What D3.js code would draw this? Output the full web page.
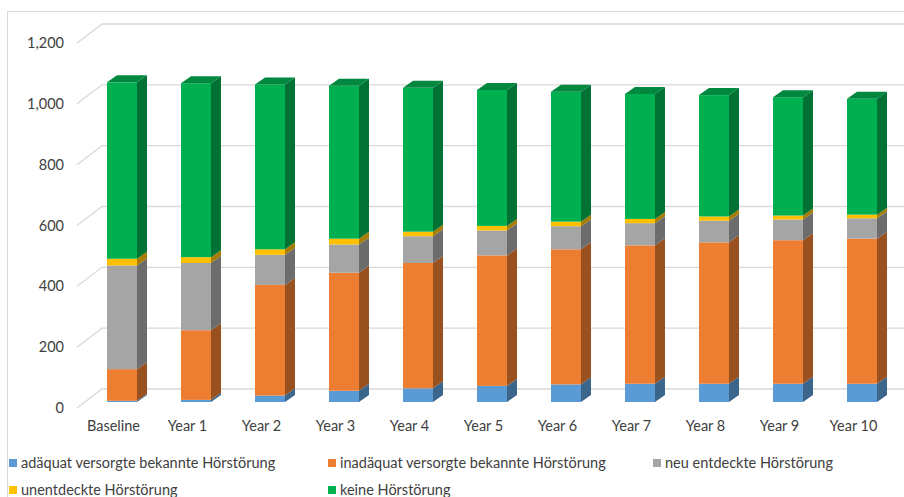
<!DOCTYPE html>
<html>
<head>
<meta charset="utf-8">
<script src="https://cdn.jsdelivr.net/npm/d3@7"></script>
<style>
  html, body { margin: 0; padding: 0; background: #ffffff; }
  svg { display: block; }
  text { font-family: Lato, "Open Sans", sans-serif; fill: #404040; }
</style>
</head>
<body>
<svg id="chart" width="904" height="497"></svg>
<script>
// Categories along the x axis
const categories = ["Baseline", "Year 1", "Year 2", "Year 3", "Year 4", "Year 5",
                    "Year 6", "Year 7", "Year 8", "Year 9", "Year 10"];

// Series (stacked bottom to top)
const seriesNames = [
  "adäquat versorgte bekannte Hörstörung",
  "inadäquat versorgte bekannte Hörstörung",
  "neu entdeckte Hörstörung",
  "unentdeckte Hörstörung",
  "keine Hörstörung"
];
const adaequat   = [4, 7, 21, 37, 45, 53, 58, 60, 60, 60, 60];
const inadaequat = [104, 229, 364, 388, 412, 429, 444, 455, 465, 472, 477];
const neu        = [341, 221, 99, 93, 88, 82, 76, 73, 71, 68, 67];
const unentdeckt = [22, 19, 18, 19, 15, 15, 15, 14, 14, 13, 12];
const keine      = [580, 572, 542, 503, 473, 447, 427, 411, 399, 389, 381];

const seriesColors = ["#5B9BD5", "#ED7D31", "#A5A5A5", "#FFC000", "#00B050"];

// Y axis tick labels
const yTicks = [0, 200, 400, 600, 800, 1000, 1200];

const svg = d3.select("#chart");

// Outer chart frame
svg.append("rect")
  .attr("x", 7.5).attr("y", 11.5)
  .attr("width", 920).attr("height", 520)
  .attr("fill", "none").attr("stroke", "#d9d9d9");

// Value scale for the bars' front faces
const y = d3.scaleLinear().domain([0, 1200]).range([402, 37]);
// Oblique 3D offsets
const wallDx = 25, wallDy = -19;     // floor front edge -> back wall
const floorOffset = 6;               // front floor edge relative to bar front
const depthDx = 10, depthDy = -7;    // bar depth

const x = d3.scaleBand()
  .domain(categories)
  .range([85, 899])
  .paddingInner(44 / 74)
  .paddingOuter(22 / 74);

// Gridlines: diagonal on the left side wall, then horizontal on the back wall
const floorLeft = 77;
const grid = svg.append("g").attr("class", "grid");
yTicks.forEach(v => {
  const yf = y(v) + floorOffset;
  const yb = yf + wallDy;
  grid.append("path")
    .attr("d", `M${floorLeft},${yf}L${floorLeft + wallDx},${yb}L904,${yb}`)
    .attr("fill", "none")
    .attr("stroke", "#d9d9d9")
    .attr("stroke-width", 1.3);
});

// Y axis labels
const yLabel = d3.scaleLinear().domain(y.domain()).range(y.range().map(r => r + floorOffset));
const yAxis = d3.axisLeft(yLabel)
  .tickValues(yTicks)
  .tickFormat(d3.format(","))
  .tickSize(0)
  .tickPadding(0);
const yAxisG = svg.append("g")
  .attr("transform", "translate(64,0)")
  .call(yAxis);
yAxisG.select(".domain").remove();
yAxisG.selectAll("text")
  .style("font-family", "Lato, 'Open Sans', sans-serif")
  .style("font-size", "14.5px")
  .attr("fill", "#404040");

// X axis labels along the front floor edge
const xLabel = d3.scaleBand().domain(categories)
  .range(x.range().map(r => r - 8.5))
  .paddingInner(x.paddingInner()).paddingOuter(x.paddingOuter());
const xAxis = d3.axisBottom(xLabel).tickSize(0).tickPadding(0);
const xAxisG = svg.append("g")
  .attr("transform", "translate(0,421)")
  .call(xAxis);
xAxisG.select(".domain").remove();
xAxisG.selectAll("text")
  .style("font-family", "Lato, 'Open Sans', sans-serif")
  .style("font-size", "14.5px")
  .attr("fill", "#404040");

// Stacked data
const rows = categories.map((c, i) => ({
  category: c,
  s0: adaequat[i], s1: inadaequat[i], s2: neu[i], s3: unentdeckt[i], s4: keine[i]
}));
const keys = ["s0", "s1", "s2", "s3", "s4"];
const stacked = d3.stack().keys(keys)(rows);

const bars = svg.append("g").attr("class", "bars");
const bw = x.bandwidth();

categories.forEach((c, i) => {
  const g = bars.append("g");
  const x0 = x(c), x1 = x0 + bw;
  stacked.forEach((layer, k) => {
    const [v0, v1] = layer[i];
    const col = d3.color(seriesColors[k]);
    const yTop = y(v1), yBot = y(v0);
    // right side face
    g.append("path")
      .attr("d", `M${x1},${yBot}L${x1 + depthDx},${yBot + depthDy}L${x1 + depthDx},${yTop + depthDy}L${x1},${yTop}Z`)
      .attr("fill", col.darker(1.2).formatHex());
    // front face
    g.append("rect")
      .attr("x", x0).attr("y", yTop)
      .attr("width", bw).attr("height", Math.max(0, yBot - yTop))
      .attr("fill", col.formatHex());
    // top face on the highest segment
    if (k === stacked.length - 1) {
      g.append("path")
        .attr("d", `M${x0},${yTop}L${x0 + depthDx},${yTop + depthDy}L${x1 + depthDx},${yTop + depthDy}L${x1},${yTop}Z`)
        .attr("fill", col.darker(0.7).formatHex());
    }
  });
});

// Legend
const legendItems = [
  { name: seriesNames[0], color: seriesColors[0], x: 9,   y: 459 },
  { name: seriesNames[1], color: seriesColors[1], x: 328, y: 459 },
  { name: seriesNames[2], color: seriesColors[2], x: 653, y: 459 },
  { name: seriesNames[3], color: seriesColors[3], x: 9,   y: 486 },
  { name: seriesNames[4], color: seriesColors[4], x: 328, y: 486 }
];
const legend = svg.append("g").attr("class", "legend");
legendItems.forEach(d => {
  legend.append("rect")
    .attr("x", d.x).attr("y", d.y)
    .attr("width", 8).attr("height", 8)
    .attr("fill", d.color);
  legend.append("text")
    .attr("x", d.x + 12).attr("y", d.y + 9)
    .style("font-size", "14.5px")
    .text(d.name);
});
</script>
</body>
</html>
